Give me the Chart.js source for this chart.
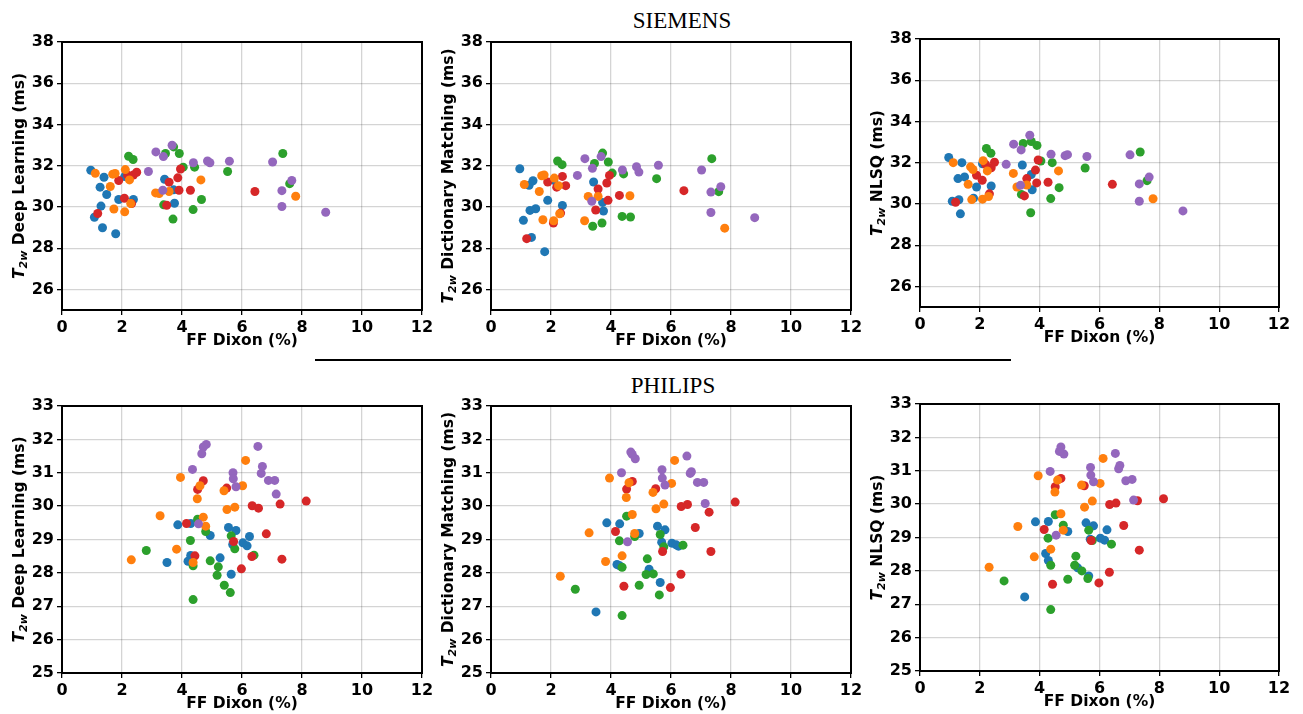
<!DOCTYPE html>
<html>
<head>
<meta charset="utf-8">
<title>T2w vs FF Dixon</title>
<script src="https://cdn.jsdelivr.net/npm/chart.js@4.4.1/dist/chart.umd.min.js"></script>
<style>
  body { margin: 0; background: #fff; width: 1303px; height: 714px; position: relative; overflow: hidden; }
  canvas { position: absolute; }
  .vendor { position: absolute; font-family: "Liberation Serif", "Times New Roman", serif; font-size: 23px; color: #000; transform: translate(-50%, -50%); white-space: nowrap; }
  .rule { position: absolute; left: 315px; top: 359px; width: 696px; height: 2px; background: #000; }
</style>
</head>
<body>
<div class="vendor" style="left:682px; top:21px;">SIEMENS</div>
<div class="rule"></div>
<div class="vendor" style="left:673px; top:386px;">PHILIPS</div>

<script>
// Colores (tab10)
const BLUE = '#1f77b4', ORANGE = '#ff7f0e', GREEN = '#2ca02c', RED = '#d62728', PURPLE = '#9467bd';

// Ticks
const xTicks = [0, 2, 4, 6, 8, 10, 12];
const siemensYTicks = [26, 28, 30, 32, 34, 36, 38];
const philipsYTicks = [25, 26, 27, 28, 29, 30, 31, 32, 33];

// ---------------------
// SIEMENS: FF Dixon (x) y T2w para DL, DM, NLSQ
// ---------------------
const sBlueX   = [0.96, 1.27, 1.40, 1.49, 1.30, 1.08, 1.35, 1.79, 1.89, 2.09, 2.38, 3.42, 3.72, 3.75];
const sBlueDL  = [31.78, 30.96, 31.44, 30.60, 30.04, 29.50, 28.99, 28.70, 30.36, 31.47, 30.36, 31.34, 30.83, 30.18];
const sBlueDM  = [31.85, 31.05, 31.27, 29.91, 29.83, 29.35, 28.52, 27.83, 30.32, 31.29, 30.07, 31.21, 30.22, 29.80];
const sBlueNL  = [32.25, 31.23, 32.00, 31.31, 30.20, 30.13, 29.52, 30.28, 30.82, 31.95, 30.87, 31.89, 31.43, 30.69];

const sOrangeX  = [1.11, 1.61, 1.69, 1.77, 2.11, 2.25, 1.73, 2.09, 2.29, 3.12, 3.24, 3.57, 4.63, 7.79];
const sOrangeDL = [31.63, 30.99, 31.59, 31.62, 31.81, 31.31, 29.90, 29.76, 30.16, 30.68, 30.65, 30.75, 31.31, 30.52];
const sOrangeDM = [31.09, 30.75, 31.51, 31.55, 31.40, 31.03, 29.38, 29.33, 29.67, 29.33, 30.51, 30.51, 30.54, 28.97];
const sOrangeNL = [32.00, 30.95, 31.80, 31.67, 32.10, 31.60, 30.21, 30.23, 30.36, 31.48, 30.82, 30.92, 31.60, 30.25];

const sRedX  = [1.19, 1.89, 2.08, 2.19, 2.38, 2.49, 2.32, 3.57, 3.86, 3.95, 3.90, 3.49, 4.28, 6.43];
const sRedDL = [29.68, 31.28, 30.42, 31.54, 31.55, 31.68, 30.16, 31.20, 31.41, 31.84, 30.81, 30.08, 30.81, 30.75];
const sRedDM = [28.46, 31.21, 29.22, 30.96, 31.48, 31.03, 29.70, 30.87, 31.16, 31.53, 30.32, 29.85, 30.56, 30.79];
const sRedNL = [30.08, 31.39, 31.15, 31.92, 31.75, 32.02, 30.49, 31.23, 31.64, 32.13, 31.02, 30.39, 31.05, 30.95];

const sGreenX  = [2.22, 2.37, 3.45, 3.72, 3.91, 4.04, 4.42, 3.39, 3.70, 4.37, 4.65, 5.52, 7.36, 7.59];
const sGreenDL = [32.46, 32.30, 32.59, 32.91, 32.59, 31.93, 31.93, 30.10, 29.41, 29.87, 30.36, 31.72, 32.59, 31.13];
const sGreenDM = [32.23, 32.05, 32.11, 32.61, 32.18, 31.64, 31.60, 29.06, 29.22, 29.54, 29.51, 31.37, 32.34, 30.74];
const sGreenNL = [32.69, 32.46, 32.93, 33.03, 32.84, 32.08, 32.00, 30.46, 29.57, 30.26, 30.79, 31.74, 32.52, 31.13];

const sPurpleX  = [2.88, 3.13, 3.38, 3.67, 3.36, 4.38, 4.85, 4.93, 5.58, 7.02, 7.33, 7.33, 7.66, 8.79];
const sPurpleDL = [31.72, 32.67, 32.44, 32.99, 30.81, 32.14, 32.23, 32.14, 32.22, 32.18, 30.79, 30.02, 31.28, 29.74];
const sPurpleDM = [31.53, 32.34, 31.87, 32.44, 30.27, 31.79, 31.95, 31.69, 32.02, 31.79, 30.72, 29.73, 30.98, 29.48];
const sPurpleNL = [31.92, 32.90, 32.62, 33.33, 30.90, 32.41, 32.34, 32.39, 32.30, 32.38, 30.97, 30.13, 31.30, 29.66];

// ---------------------
// PHILIPS
// ---------------------
const pBlueX  = [4.29, 3.86, 4.94, 5.55, 5.80, 6.25, 5.69, 6.03, 6.17, 4.29, 4.20, 3.50, 5.27, 5.64];
const pBlueDL = [29.48, 29.44, 29.12, 29.36, 29.27, 29.09, 28.85, 28.90, 28.81, 28.52, 28.35, 28.31, 28.45, 27.96];
const pBlueDM = [29.47, 29.50, 29.18, 29.40, 29.29, 28.80, 28.92, 28.89, 28.84, 28.21, 28.25, 26.83, 28.11, 27.71];
const pBlueNL = [29.48, 29.47, 29.18, 29.44, 29.35, 29.23, 28.95, 28.98, 28.92, 28.31, 28.52, 27.22, 28.09, 27.85];

const pOrangeX  = [6.12, 3.95, 4.60, 4.51, 5.40, 6.02, 5.50, 5.76, 3.27, 4.71, 4.79, 3.82, 2.31, 4.37];
const pOrangeDL = [31.37, 30.86, 30.61, 30.22, 30.46, 30.61, 29.90, 29.97, 29.71, 29.67, 29.40, 28.71, 28.39, 28.31];
const pOrangeDM = [31.37, 30.84, 30.70, 30.26, 30.41, 30.68, 29.92, 30.06, 29.20, 29.75, 29.18, 28.34, 27.90, 28.51];
const pOrangeNL = [31.37, 30.85, 30.72, 30.36, 30.57, 30.62, 29.91, 30.09, 29.33, 29.71, 29.22, 28.42, 28.11, 28.65];

const pRedX  = [4.71, 4.52, 5.49, 6.34, 6.55, 7.27, 8.14, 4.15, 5.72, 6.81, 4.43, 6.33, 7.33, 5.98];
const pRedDL = [30.76, 30.50, 30.54, 30.01, 29.94, 30.06, 30.15, 29.48, 28.94, 29.17, 28.51, 28.49, 28.41, 28.12];
const pRedDM = [30.74, 30.51, 30.52, 29.99, 30.05, 29.82, 30.12, 29.24, 28.64, 29.36, 27.60, 27.96, 28.64, 27.56];
const pRedNL = [30.77, 30.52, 30.55, 29.99, 30.03, 30.10, 30.16, 29.24, 28.91, 29.36, 27.60, 27.96, 28.62, 27.64];

const pGreenX  = [4.52, 4.79, 4.28, 5.64, 5.76, 6.40, 2.81, 4.94, 4.37, 5.21, 5.17, 5.41, 5.61, 4.37];
const pGreenDL = [29.61, 29.24, 28.97, 29.11, 28.72, 28.53, 28.67, 28.36, 28.21, 28.18, 27.93, 27.63, 27.41, 27.20];
const pGreenDM = [29.70, 29.09, 28.96, 29.15, 28.78, 28.83, 27.51, 27.63, 28.17, 28.42, 27.95, 27.97, 27.34, 26.72];
const pGreenNL = [29.68, 29.37, 28.98, 29.22, 28.91, 28.80, 27.70, 27.75, 28.17, 28.44, 28.17, 28.00, 27.77, 26.84];

const pPurpleX  = [4.81, 4.71, 4.66, 4.35, 6.53, 6.68, 6.64, 5.70, 5.71, 5.80, 6.88, 7.09, 7.14, 4.55];
const pPurpleDL = [31.85, 31.77, 31.57, 31.10, 31.79, 31.19, 30.98, 31.00, 30.82, 30.58, 30.77, 30.77, 30.36, 29.47];
const pPurpleDM = [31.42, 31.55, 31.62, 31.00, 31.50, 31.03, 30.98, 31.09, 30.84, 30.63, 30.71, 30.71, 30.08, 28.93];
const pPurpleNL = [31.50, 31.71, 31.58, 30.98, 31.52, 31.16, 31.06, 31.10, 30.87, 30.67, 30.70, 30.74, 30.12, 29.07];

// ---------------------
// Layout de los paneles
// ---------------------
const PAD_L = 62, PAD_R = 16, PAD_T = 14, PAD_B = 44;

Chart.defaults.font.family = "'DejaVu Sans', sans-serif";

// grupos en orden de dibujo (el primero queda arriba)
const group = (x, y, color) => ({ x, y, color });

const panels = [
  { box: [62, 42, 422, 310], yMin: 25, yMax: 38, yTicks: siemensYTicks, label: 'Deep Learning (ms)',
    groups: [group(sPurpleX, sPurpleDL, PURPLE), group(sOrangeX, sOrangeDL, ORANGE), group(sRedX, sRedDL, RED), group(sGreenX, sGreenDL, GREEN), group(sBlueX, sBlueDL, BLUE)] },
  { box: [491, 42, 851, 310], yMin: 25, yMax: 38, yTicks: siemensYTicks, label: 'Dictionary Matching (ms)',
    groups: [group(sPurpleX, sPurpleDM, PURPLE), group(sOrangeX, sOrangeDM, ORANGE), group(sRedX, sRedDM, RED), group(sGreenX, sGreenDM, GREEN), group(sBlueX, sBlueDM, BLUE)] },
  { box: [920, 39, 1279, 307], yMin: 25, yMax: 38, yTicks: siemensYTicks, label: 'NLSQ (ms)',
    groups: [group(sPurpleX, sPurpleNL, PURPLE), group(sOrangeX, sOrangeNL, ORANGE), group(sRedX, sRedNL, RED), group(sGreenX, sGreenNL, GREEN), group(sBlueX, sBlueNL, BLUE)] },
  { box: [62, 406, 422, 673], yMin: 25, yMax: 33, yTicks: philipsYTicks, label: 'Deep Learning (ms)',
    groups: [group(pPurpleX, pPurpleDL, PURPLE), group(pOrangeX, pOrangeDL, ORANGE), group(pRedX, pRedDL, RED), group(pGreenX, pGreenDL, GREEN), group(pBlueX, pBlueDL, BLUE)] },
  { box: [491, 406, 851, 673], yMin: 25, yMax: 33, yTicks: philipsYTicks, label: 'Dictionary Matching (ms)',
    groups: [group(pPurpleX, pPurpleDM, PURPLE), group(pOrangeX, pOrangeDM, ORANGE), group(pRedX, pRedDM, RED), group(pGreenX, pGreenDM, GREEN), group(pBlueX, pBlueDM, BLUE)] },
  { box: [920, 404, 1279, 671], yMin: 25, yMax: 33, yTicks: philipsYTicks, label: 'NLSQ (ms)',
    groups: [group(pPurpleX, pPurpleNL, PURPLE), group(pOrangeX, pOrangeNL, ORANGE), group(pRedX, pRedNL, RED), group(pGreenX, pGreenNL, GREEN), group(pBlueX, pBlueNL, BLUE)] }
];

// Marco negro + títulos de ejes (T_2w con subíndice)
const framePlugin = label => ({
  id: 'frame',
  afterDraw(chart) {
    const { ctx, chartArea: a } = chart;
    ctx.save();
    ctx.strokeStyle = '#000';
    ctx.lineWidth = 2;
    ctx.strokeRect(a.left, a.top, a.right - a.left, a.bottom - a.top);

    // título eje x
    ctx.fillStyle = '#000';
    ctx.font = "bold 15.5px 'DejaVu Sans'";
    ctx.textAlign = 'center';
    ctx.textBaseline = 'middle';
    ctx.fillText('FF Dixon (%)', (a.left + a.right) / 2, a.bottom + 31);

    // título eje y
    const fT = "italic bold 15.5px 'DejaVu Sans'";
    const fSub = "italic bold 11px 'DejaVu Sans'";
    const fMain = "bold 15.5px 'DejaVu Sans'";
    const rest = ' ' + label;
    ctx.font = fT; const wT = ctx.measureText('T').width;
    ctx.font = fSub; const wS = ctx.measureText('2w').width;
    ctx.font = fMain; const wM = ctx.measureText(rest).width;
    const total = wT + wS + wM;
    ctx.translate(a.left - 42, (a.top + a.bottom) / 2);
    ctx.rotate(-Math.PI / 2);
    ctx.textAlign = 'left';
    let x = -total / 2;
    ctx.font = fT; ctx.fillText('T', x, 0); x += wT;
    ctx.font = fSub; ctx.fillText('2w', x, 4); x += wS;
    ctx.font = fMain; ctx.fillText(rest, x, 0);
    ctx.restore();
  }
});

const tickFont = { size: 16, weight: 'bold' };
const gridOpts = { color: 'rgba(0,0,0,0.17)', lineWidth: 1.3, drawTicks: true, tickLength: 5, tickColor: '#000', tickWidth: 1.3 };
const borderOpts = { display: true, color: '#000', width: 2 };

panels.forEach(p => {
  const [l, t, r, b] = p.box;
  const cv = document.createElement('canvas');
  cv.width = r - l + PAD_L + PAD_R;
  cv.height = b - t + PAD_T + PAD_B;
  cv.style.left = (l - PAD_L) + 'px';
  cv.style.top = (t - PAD_T) + 'px';
  document.body.appendChild(cv);

  new Chart(cv, {
    type: 'scatter',
    data: {
      datasets: p.groups.map(g => ({
        data: g.x.map((v, i) => ({ x: v, y: g.y[i] })),
        backgroundColor: g.color,
        borderWidth: 0,
        pointRadius: 4.5
      }))
    },
    options: {
      responsive: false,
      animation: false,
      events: [],
      layout: { padding: { left: 0, top: PAD_T, right: PAD_R, bottom: 0 } },
      plugins: { legend: { display: false }, tooltip: { enabled: false } },
      scales: {
        x: {
          type: 'linear', min: 0, max: 12,
          afterBuildTicks: s => { s.ticks = xTicks.map(v => ({ value: v })); },
          afterFit: s => { s.height = PAD_B; },
          ticks: { font: tickFont, color: '#000', padding: 3, autoSkip: false, maxRotation: 0 },
          grid: gridOpts,
          border: borderOpts
        },
        y: {
          type: 'linear', min: p.yMin, max: p.yMax,
          afterBuildTicks: s => { s.ticks = p.yTicks.map(v => ({ value: v })); },
          afterFit: s => { s.width = PAD_L; },
          ticks: { font: tickFont, color: '#000', padding: 3, autoSkip: false },
          grid: gridOpts,
          border: borderOpts
        }
      }
    },
    plugins: [framePlugin(p.label)]
  });
});
</script>
</body>
</html>
